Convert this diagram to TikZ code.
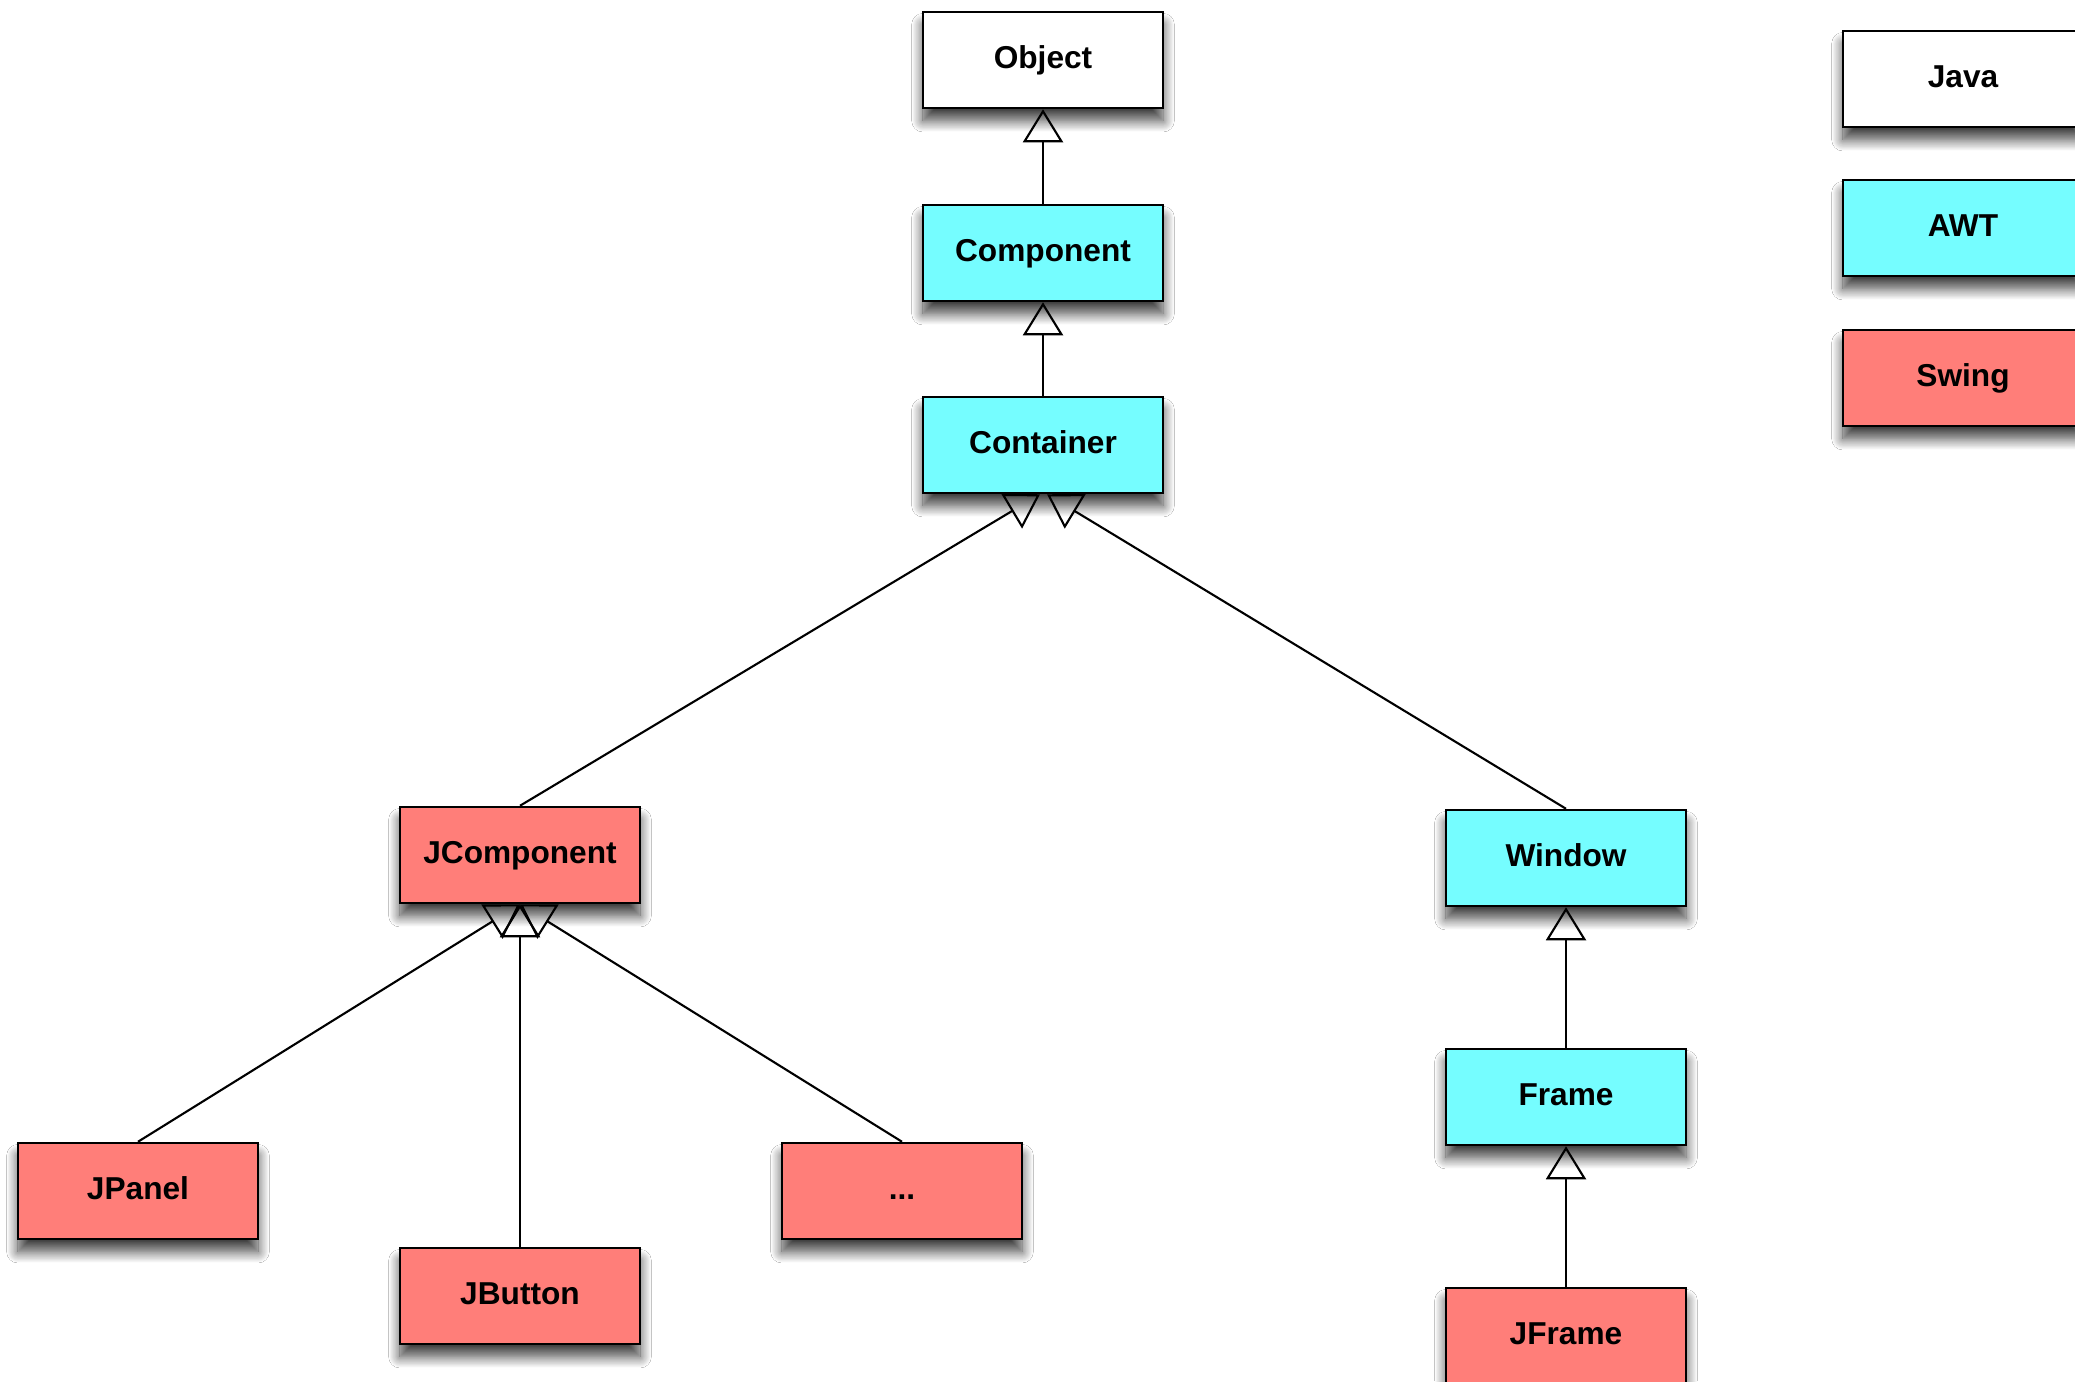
\documentclass[tikz,border=0pt]{standalone}
\usepackage{fontspec}
\setmainfont{Liberation Sans}
\usetikzlibrary{arrows.meta,shadows.blur,calc}
\definecolor{aqua}{RGB}{117,253,255}
\definecolor{salmon}{RGB}{255,126,121}
\begin{document}
\begin{tikzpicture}[x=0.01cm,y=-0.01cm,
  cls/.style={draw=black, line width=0.7pt, minimum width=2.4cm, minimum height=0.96cm,
    inner sep=0pt, text height=6.6pt, text depth=1.9pt,
    font=\fontsize{9}{11}\selectfont\bfseries,
    blur shadow={shadow xshift=0pt, shadow yshift=-3.6pt, shadow blur radius=3.2pt,
      shadow blur steps=14, shadow opacity=75}},
  java/.style={cls, fill=white},
  awt/.style={cls, fill=aqua},
  swing/.style={cls, fill=salmon},
  inh/.style={line width=0.6pt, -{Triangle[open, length=0.33cm, width=0.40cm]}}]
\useasboundingbox[fill=white] (0,0) rectangle (2075,1381);

% hierarchy
\node[java]  (object) at (1043,60)   {Object};
\node[awt]   (comp)   at (1043,253)  {Component};
\node[awt]   (cont)   at (1043,445)  {Container};
\node[swing] (jcomp)  at (520,855)   {JComponent};
\node[awt]   (window) at (1566,858)  {Window};
\node[awt]   (frame)  at (1566,1097) {Frame};
\node[swing] (jframe) at (1566,1336) {JFrame};
\node[swing] (jpanel) at (138,1191)  {JPanel};
\node[swing] (jbutton) at (520,1296) {JButton};
\node[swing] (dots)   at (902,1191)  {...};

% legend
\node[java]  (lj) at (1963,79)  {Java};
\node[awt]   (la) at (1963,228) {AWT};
\node[swing] (ls) at (1963,378) {Swing};

% connectors
\draw[inh] (comp.north) -- (object.south);
\draw[inh] (cont.north) -- (comp.south);
\draw[inh] (jcomp.north) -- ($(cont.south)+(-3,0)$);
\draw[inh] (window.north) -- ($(cont.south)+(4,0)$);
\draw[inh] (jpanel.north) -- (jcomp.south);
\draw[inh] (jbutton.north) -- (jcomp.south);
\draw[inh] (dots.north) -- (jcomp.south);
\draw[inh] (frame.north) -- (window.south);
\draw[inh] (jframe.north) -- (frame.south);
\end{tikzpicture}
\end{document}
